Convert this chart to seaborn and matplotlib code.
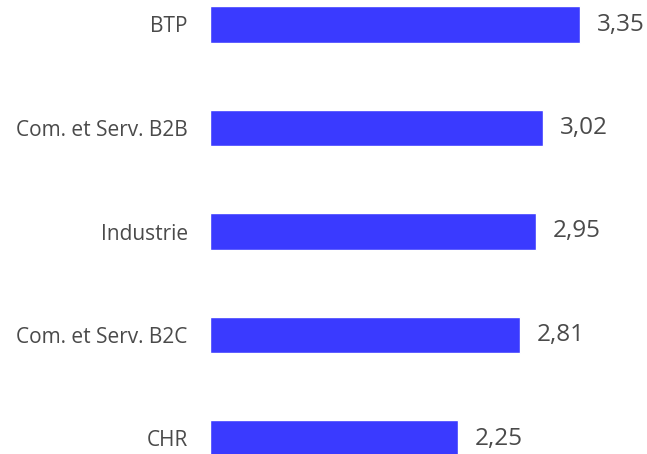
import matplotlib
matplotlib.use("Agg")
import matplotlib.pyplot as plt
import seaborn as sns
import pandas as pd

categories = ["BTP", "Com. et Serv. B2B", "Industrie", "Com. et Serv. B2C", "CHR"]
values = [3.35, 3.02, 2.95, 2.81, 2.25]

bar_color = "#3a3aff"
text_color = "#4a4a4a"

sns.set_theme(style="white")
plt.rcParams["font.family"] = ["Open Sans", "DejaVu Sans"]

df = pd.DataFrame({"secteur": categories, "note": values})

fig = plt.figure(figsize=(6.47, 4.54), dpi=100)
left = 210 / 647
ax = fig.add_axes([left, 0, 1 - left, 1])

sns.barplot(data=df, x="note", y="secteur", color=bar_color, width=0.35,
            saturation=1, ax=ax)

# echelle : 110.4 px par unite, barre commence a x=210
ax.set_xlim(0, 437 / 110.4)
ax.set_ylim(4 + (454 - 438.5) / 103.5, -24.5 / 103.5)

labels = [f"{v:.2f}".replace(".", ",") for v in values]
ax.bar_label(ax.containers[0], labels=labels, padding=12, fontsize=17.5,
             color=text_color)

ax.set_xlabel("")
ax.set_ylabel("")
ax.set_xticks([])
ax.tick_params(axis="y", length=0, pad=16, labelsize=15, labelcolor=text_color)
sns.despine(ax=ax, left=True, bottom=True)

fig.savefig("out.png", dpi=100)
